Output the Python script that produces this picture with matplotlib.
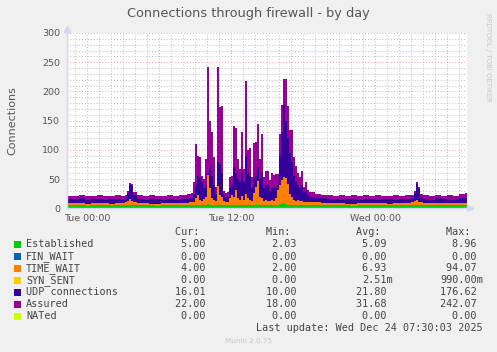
import numpy as np
import matplotlib
matplotlib.use("Agg")
import matplotlib.pyplot as plt
from matplotlib.lines import Line2D
from matplotlib.patches import Rectangle

# time in minutes relative to Tue 00:00 (5 min per pixel, munin "day" graph)
minutes = [-105, -70, -40, -10, 20, 50, 80, 110, 140, 170, 190, 200, 210, 220, 230,
           250, 280, 310, 340, 370, 400, 430, 460, 480, 495,
           500, 510, 520, 530, 540, 550, 560, 570, 580, 590,
           600, 610, 620, 630, 640, 650, 660, 670, 680, 690,
           700, 710, 720, 730, 740, 750, 760, 770, 780, 790,
           800, 810, 820, 830, 840, 850, 860, 870, 880, 890,
           900, 910, 920, 930, 940, 950, 960, 970, 980, 990,
           1000, 1010, 1020, 1030, 1040, 1050, 1060, 1070, 1080, 1090,
           1100, 1110,
           1140, 1170, 1200, 1230, 1260, 1290, 1320, 1350, 1380, 1410,
           1440, 1470, 1500, 1530, 1560, 1590, 1620, 1635, 1645, 1655,
           1665, 1680, 1710, 1740, 1770, 1800, 1830, 1860, 1890, 1900]

assured = [21, 21, 22, 21, 21, 22, 21, 21, 22, 21, 22, 30, 44, 42, 28,
           22, 21, 22, 21, 21, 22, 21, 22, 22, 23,
           24, 25, 27, 45, 110, 90, 88, 55, 50, 85,
           242, 150, 130, 88, 36, 242, 173, 175, 30, 26,
           28, 54, 56, 140, 138, 85, 68, 130, 67, 218,
           100, 103, 53, 111, 114, 145, 84, 127, 54, 63,
           63, 49, 61, 57, 58, 58, 128, 177, 221, 221,
           175, 134, 134, 88, 73, 60, 53, 64, 37, 45,
           31, 28,
           25, 23, 22, 21, 22, 21, 22, 21, 22, 21,
           22, 21, 21, 22, 21, 22, 23, 30, 45, 36,
           24, 22, 21, 23, 21, 22, 21, 24, 26, 26]

udp = [16, 16, 17, 15, 16, 16, 15, 16, 16, 15, 17, 26, 40, 38, 22,
       16, 15, 16, 16, 15, 16, 15, 16, 16, 17,
       16, 17, 18, 25, 40, 55, 52, 45, 35, 40,
       60, 70, 55, 40, 25, 80, 75, 60, 22, 20,
       20, 35, 40, 70, 60, 50, 45, 60, 45, 90,
       60, 55, 35, 50, 55, 70, 50, 60, 35, 40,
       40, 30, 35, 35, 35, 40, 90, 130, 176, 150,
       120, 95, 80, 55, 45, 40, 35, 40, 28, 30,
       22, 20,
       18, 17, 16, 16, 15, 16, 16, 15, 16, 16,
       15, 16, 16, 15, 16, 16, 17, 26, 42, 33,
       19, 16, 15, 17, 16, 15, 16, 17, 18, 18]

time_wait = [4, 4, 4, 3, 4, 4, 4, 3, 4, 4, 5, 7, 10, 8, 5,
             4, 4, 3, 4, 4, 4, 4, 4, 4, 4,
             4, 5, 5, 6, 12, 18, 10, 8, 10, 15,
             50, 28, 12, 10, 8, 32, 18, 15, 8, 6,
             6, 12, 18, 14, 25, 12, 10, 16, 10, 18,
             12, 10, 8, 20, 30, 40, 15, 12, 8, 10,
             8, 7, 10, 8, 12, 25, 33, 40, 44, 43,
             35, 20, 14, 10, 8, 9, 8, 7, 6, 6,
             5, 5,
             5, 4, 4, 4, 4, 3, 4, 4, 4, 4,
             4, 4, 3, 4, 4, 4, 5, 6, 8, 6,
             5, 4, 4, 4, 4, 4, 4, 4, 4, 4]

established = [5, 5, 5, 4, 5, 5, 5, 5, 5, 5, 5, 5, 6, 5, 5,
               5, 5, 5, 4, 5, 5, 5, 5, 5, 5,
               5, 5, 5, 5, 6, 5, 5, 5, 6, 5,
               7, 6, 5, 5, 5, 6, 5, 5, 5, 5,
               5, 6, 5, 5, 6, 5, 5, 5, 5, 6,
               5, 5, 5, 6, 7, 6, 5, 5, 5, 5,
               5, 5, 5, 5, 5, 6, 7, 8, 9, 8,
               6, 5, 5, 5, 5, 5, 5, 5, 5, 5,
               5, 5,
               5, 5, 5, 5, 5, 5, 4, 5, 5, 5,
               5, 5, 5, 5, 5, 5, 5, 6, 6, 5,
               5, 5, 5, 5, 5, 5, 5, 5, 5, 5]

names = ["Established", "FIN_WAIT", "TIME_WAIT", "SYN_SENT", "UDP connections", "Assured", "NATed"]
colors = ["#00CC00", "#0066B3", "#FF8000", "#FFCC00", "#330099", "#990099", "#CCFF00"]
cur = ["5.00", "0.00", "4.00", "0.00", "16.01", "22.00", "0.00"]
mins = ["2.03", "0.00", "2.00", "0.00", "10.00", "18.00", "0.00"]
avgs = ["5.09", "0.00", "6.93", "2.51m", "21.80", "31.68", "0.00"]
maxs = ["8.96", "0.00", "94.07", "990.00m", "176.62", "242.07", "0.00"]

xticks = [0, 720, 1440]
xticklabels = ["Tue 00:00", "Tue 12:00", "Wed 00:00"]

W, H = 497, 352
FONT = "#555555"


def fx(x):
    return x / W


def fy(y):
    return 1 - y / H


fig = plt.figure(figsize=(W / 100, H / 100), dpi=100, facecolor="#F0F0F0")
ax = fig.add_axes([fx(67), fy(208.3), fx(467) - fx(67), fy(33) - fy(208.3)])
ax.set_facecolor("white")

t = np.array(minutes)
a = np.array(assured)
u = np.array(udp)
tw = np.array(time_wait)
e = np.array(established)

# grid behind the areas
for v in range(10, 301, 10):
    c = "#F0A0A0" if v % 50 == 0 else "#BDBDBD"
    ax.axhline(v, color=c, lw=0.7, ls=(0, (1, 2)), zorder=0.5)
for m in range(-60, 1900, 60):
    c = "#F0A0A0" if m % 360 == 0 else "#BDBDBD"
    ax.axvline(m, color=c, lw=0.7, ls=(0, (1, 2)), zorder=0.5)

ax.fill_between(t, 0, a, step="post", color=colors[5], lw=0, zorder=2)
ax.fill_between(t, 0, u, step="post", color=colors[4], lw=0, zorder=2)
ax.fill_between(t, e, e + tw, step="post", color=colors[2], lw=0, zorder=2)
ax.fill_between(t, 0, e, step="post", color=colors[0], lw=0, zorder=2)

ax.set_xlim(-101.5, 1898.5)
ax.set_ylim(0, 300)
for s in ax.spines.values():
    s.set_visible(False)
ax.set_xticks(xticks)
ax.set_xticklabels(xticklabels)
ax.set_yticks(range(0, 301, 50))
ax.tick_params(length=0, labelsize=6.8, colors=FONT)
ax.tick_params(axis="y", pad=5)
ax.tick_params(axis="x", pad=4)
ax.set_ylabel("Connections", fontsize=8, color=FONT, labelpad=18)

# axes with arrows
axis_c = "#CFD6F8"
fig.add_artist(Line2D([fx(67), fx(67)], [fy(208.3), fy(30)], color=axis_c, lw=1))
fig.add_artist(Line2D([fx(67), fx(469)], [fy(208.3), fy(208.3)], color=axis_c, lw=1))
fig.add_artist(Line2D([fx(67)], [fy(29)], marker="^", ms=4, color=axis_c))
fig.add_artist(Line2D([fx(470)], [fy(208.3)], marker=">", ms=4, color=axis_c))

fig.text(0.5, fy(14), "Connections through firewall - by day", ha="center", va="center",
         fontsize=9.3, color=FONT)
fig.text(fx(488), fy(57), "RRDTOOL / TOBI OETIKER", rotation=270, ha="center", va="center",
         fontsize=5, color="#C8C8C8")

# legend
mono = dict(family="DejaVu Sans Mono", fontsize=7.3, color="#444444")
cols = [211.8, 302.8, 392.8, 482.8]
for x, hdr in zip(cols, ["Cur:", "Min:", "Avg:", "Max:"]):
    fig.text(fx(x), fy(232.3), hdr + "  ", ha="right", va="center", **mono)
rows = [244.3, 256.5, 268.3, 280.3, 292.3, 304.3, 316.3]
for i, y in enumerate(rows):
    fig.add_artist(Rectangle((fx(14), fy(y + 3.2)), fx(6.5), fy(0) - fy(6.5),
                             transform=fig.transFigure, color=colors[i], lw=0))
    fig.text(fx(26), fy(y), names[i], ha="left", va="center", **mono)
    for x, col in zip(cols, [cur, mins, avgs, maxs]):
        s = col[i]
        if not s.endswith("m"):
            s = s + " "
        fig.text(fx(x), fy(y), s, ha="right", va="center", **mono)
fig.text(fx(482.8), fy(328.3), "Last update: Wed Dec 24 07:30:03 2025", ha="right",
         va="center", **mono)
fig.text(fx(249), fy(341), "Munin 2.0.75", ha="center", va="center", fontsize=5.2,
         color="#C8C8C8")

fig.savefig("out.png", dpi=100, facecolor=fig.get_facecolor())
